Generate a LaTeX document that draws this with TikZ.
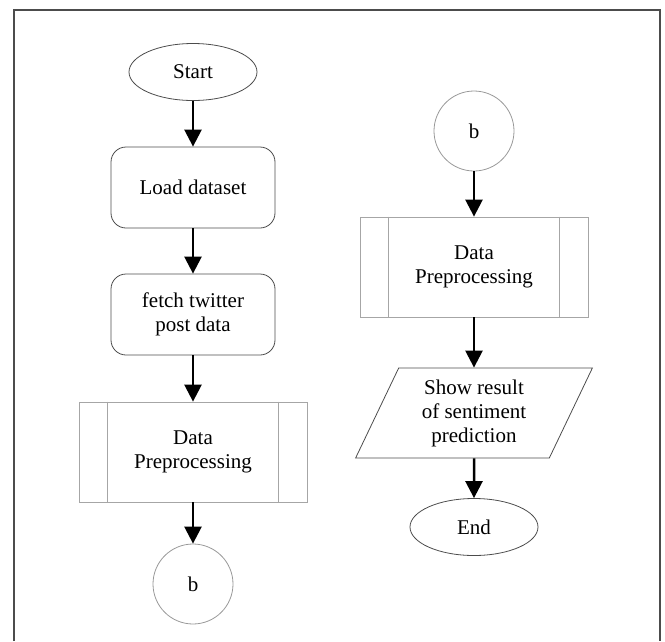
\documentclass[tikz,border=0pt]{standalone}
\usepackage{fontspec}
\setmainfont{Liberation Serif}
\usetikzlibrary{arrows.meta,shapes.geometric}
\begin{document}
\begin{tikzpicture}[x=1pt,y=-1pt,
	every node/.style={font=\fontsize{21}{24}\selectfont,align=center,inner sep=0pt},
	terminal/.style={ellipse,draw=black!70,line width=0.8pt,minimum width=128pt,minimum height=57pt},
	link/.style={circle,draw=black!40,line width=0.8pt,minimum size=80pt},
	stepbox/.style={rectangle,rounded corners=15pt,draw=black!70,line width=0.8pt,minimum width=164pt,minimum height=81pt},
	subproc/.style={rectangle,draw=black!35,line width=0.8pt,minimum width=228pt,minimum height=100pt},
	iobox/.style={trapezium,trapezium left angle=66,trapezium right angle=114,trapezium stretches=true,draw=black!70,line width=0.8pt,minimum width=237pt,minimum height=90pt},
	flow/.style={-{Triangle[length=17pt,width=17pt]},line width=2.5pt}
	]
	\useasboundingbox (0,0) rectangle (665,641);
	\draw[black!70,line width=2pt] (14,641) -- (14,10) -- (660,10) -- (660,641);

	% left column
	\node[terminal] (start) at (193,72) {Start};
	\node[stepbox] (load) at (193,187.5) {Load dataset};
	\node[stepbox] (fetch) at (193,314.5) {fetch twitter\\post data};
	\node[subproc] (prepA) at (193,452) {Data\\Preprocessing};
	\node[link] (linkA) at (193,584) {b};

	% right column
	\node[link] (linkB) at (474,131) {b};
	\node[subproc] (prepB) at (474,267) {Data\\Preprocessing};
	\node[iobox] (result) at (474,413) {Show result\\of sentiment\\prediction};
	\node[terminal] (end) at (474,527) {End};

	\foreach \p in {prepA,prepB}
		\draw[black!35,line width=0.8pt]
			([xshift=29pt]\p.north west) -- ([xshift=29pt]\p.south west)
			([xshift=-29pt]\p.north east) -- ([xshift=-29pt]\p.south east);

	\draw[flow] (start) -- (load);
	\draw[flow] (load) -- (fetch);
	\draw[flow] (fetch) -- (prepA);
	\draw[flow] (prepA) -- (linkA);
	\draw[flow] (linkB) -- (prepB);
	\draw[flow] (prepB) -- (result);
	\draw[flow] (result) -- (end);
\end{tikzpicture}
\end{document}
